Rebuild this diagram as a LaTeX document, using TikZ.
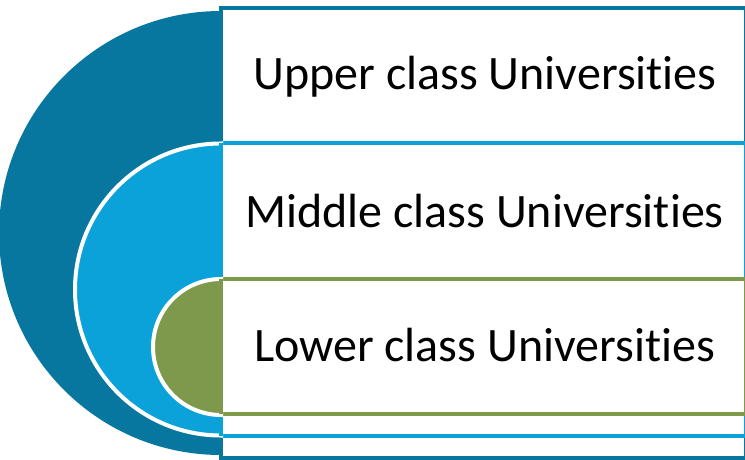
\documentclass[tikz,border=0pt]{standalone}
\usepackage{fontspec}
\setmainfont{Carlito}[Ligatures={NoCommon}]
\definecolor{dblue}{HTML}{07779F}
\definecolor{lblue}{HTML}{0BA2D9}
\definecolor{lgreen}{HTML}{7F994C}
\begin{document}
\begin{tikzpicture}[x=1pt,y=-1pt,
  frame/.style={draw=#1,line width=4pt,fill=white,inner sep=0pt,outer sep=0pt},
  lbl/.style={font=\fontsize{48}{57}\selectfont,text=black,inner sep=0pt,anchor=base}]
\useasboundingbox (0,0) rectangle (745,460);
% upper
\node[frame=dblue,minimum width=525pt,minimum height=450pt] (ru) at (483.5,233) {};
\fill[dblue] (221,11) arc[start angle=270,end angle=90,radius=222] -- cycle;
\draw[dblue,line width=4pt] (220.5,8) -- (220.5,458);
% middle
\node[frame=lblue,minimum width=525pt,minimum height=293pt] (rm) at (483.5,289.5) {};
\draw[white,line width=4pt,fill=lblue] (221,143.5) arc[start angle=270,end angle=90,radius=146] -- cycle;
\draw[lblue,line width=4pt] (220.5,143) -- (220.5,436);
% lower
\node[frame=lgreen,minimum width=525pt,minimum height=135pt] (rl) at (483.5,346.5) {};
\draw[white,line width=4pt,fill=lgreen] (221,279) arc[start angle=270,end angle=90,radius=68] -- cycle;
\draw[lgreen,line width=4pt] (220.5,279) -- (220.5,414);
% labels
\node[lbl] (tu) at (485,90) {Upper class Universities};
\node[lbl] (tm) at (484.5,227) {Middle class Universities};
\node[lbl] (tl) at (484.5,361) {Lower class Universities};
\end{tikzpicture}
\end{document}
